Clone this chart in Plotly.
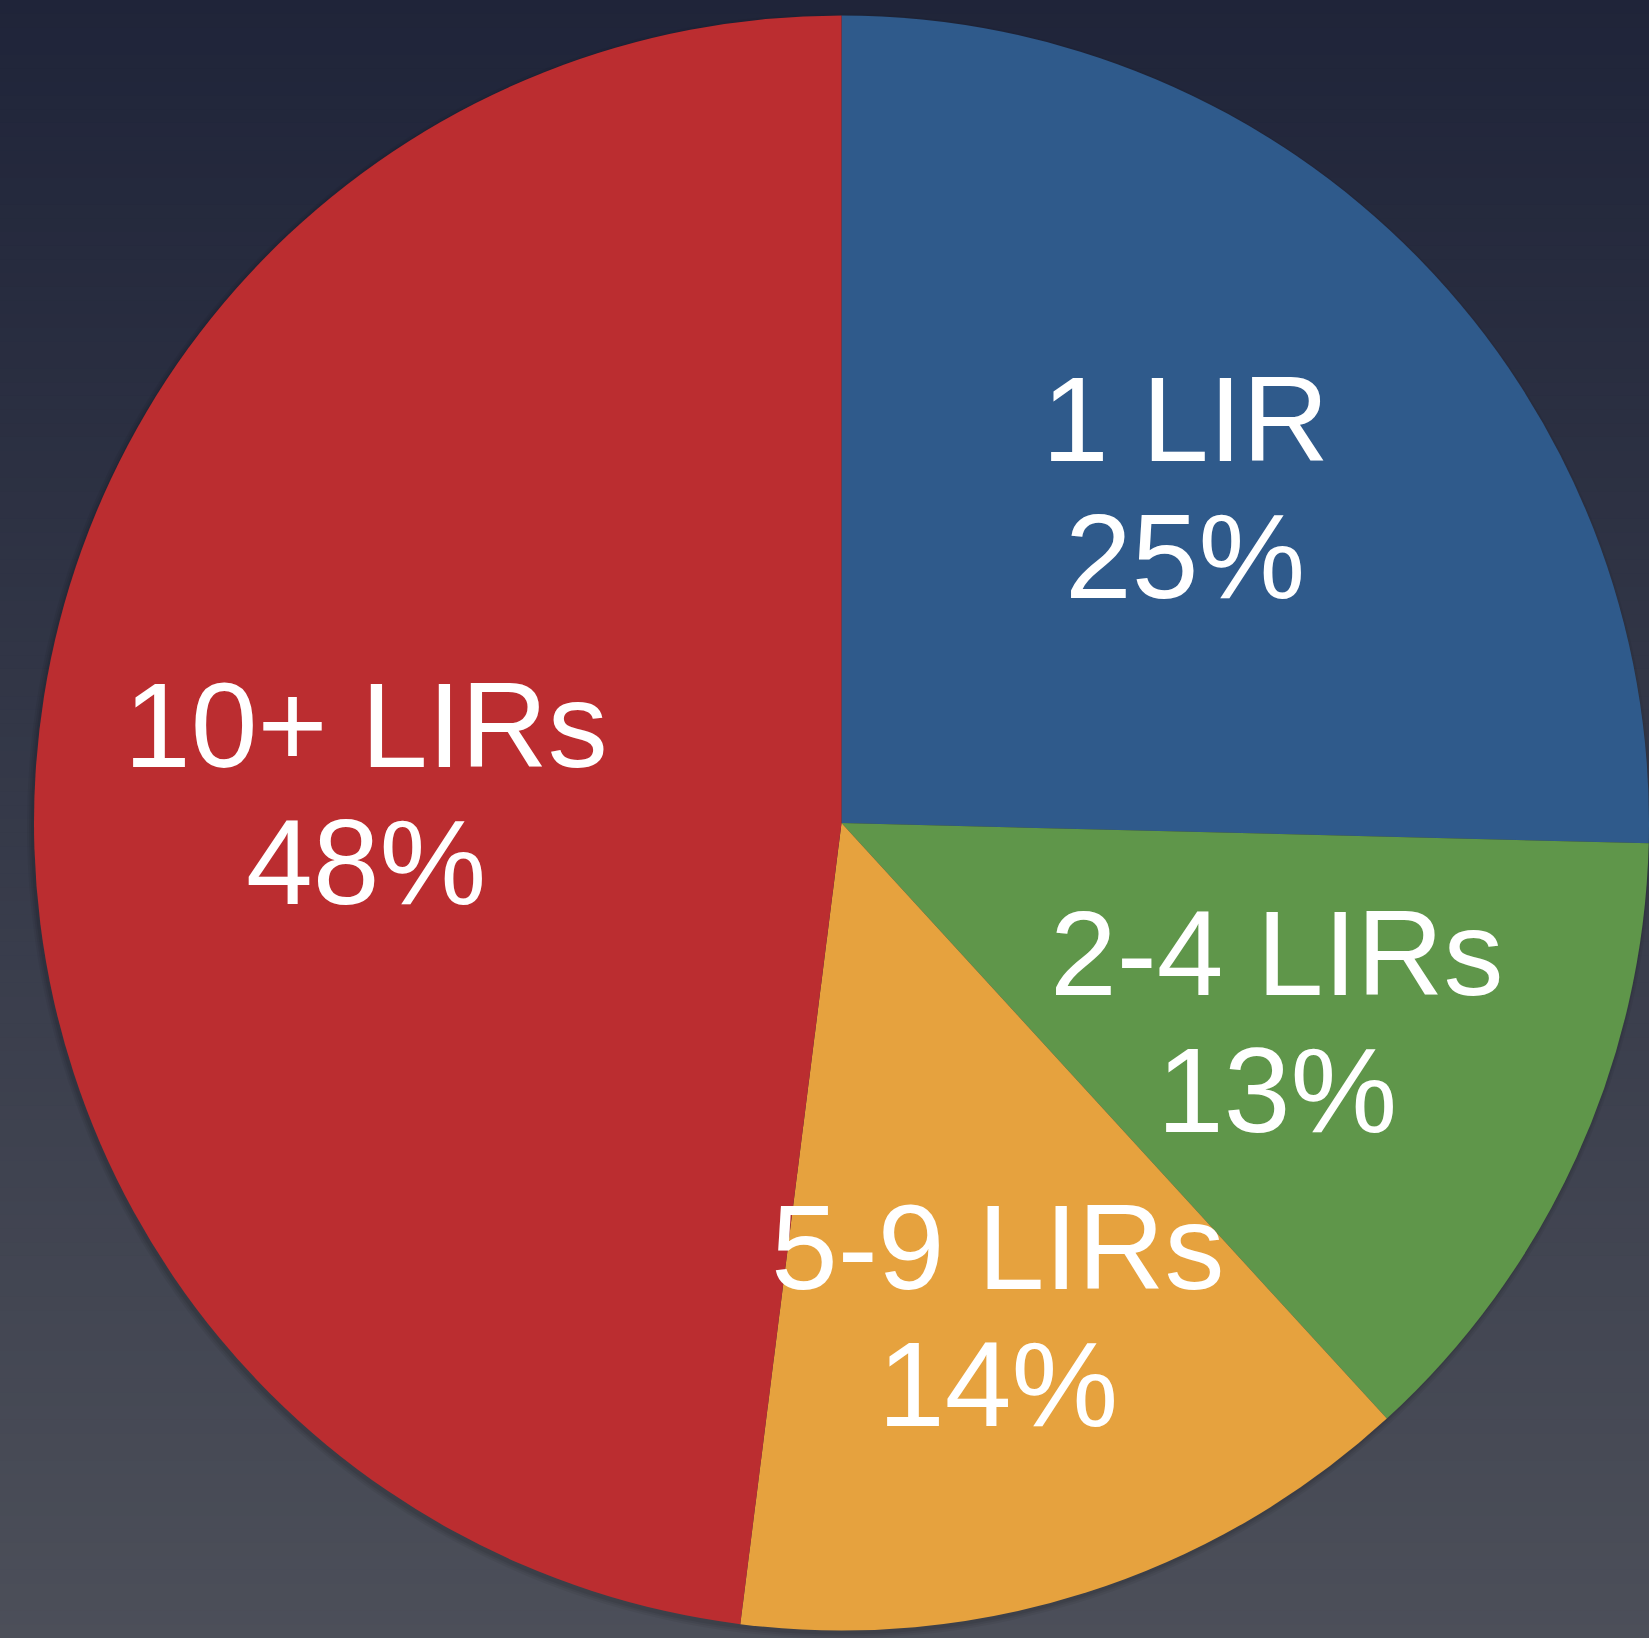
import math
import plotly.graph_objects as go

# ---- data ----
categories = ["1 LIR", "2-4 LIRs", "5-9 LIRs", "10+ LIRs"]
values = [25.4, 12.8, 13.8, 48.0]
colors = ["#2F5A8B", "#5F964A", "#E6A23E", "#BB2D30"]
label_r = [0.595, 0.593, 0.64, 0.59]   # label distance as fraction of radius

W, H = 1649, 1638
dom_x = [34 / W, 1.0]
dom_y = [3 / H, 1 - 11 / H]

# pie geometry in pixels (plotly: radius = min(box)/2, centred in the domain)
bw = (dom_x[1] - dom_x[0]) * W
bh = (dom_y[1] - dom_y[0]) * H
R = min(bw, bh) / 2
cx = (dom_x[0] + dom_x[1]) / 2 * W
cy = (1 - (dom_y[0] + dom_y[1]) / 2) * H

# vertical background gradient (top -> bottom)
top_rgb = (31, 36, 57)
bot_rgb = (76, 79, 89)
n_strips = 120
shapes = []
for i in range(n_strips):
    t = (i + 0.5) / n_strips
    c = tuple(round(top_rgb[k] + (bot_rgb[k] - top_rgb[k]) * t) for k in range(3))
    shapes.append(dict(type="rect", xref="paper", yref="paper",
                       x0=0, x1=1, y1=1 - i / n_strips, y0=1 - (i + 1) / n_strips - 0.001,
                       fillcolor="rgb(%d,%d,%d)" % c, line=dict(width=0), layer="below"))
# soft shadow behind the pie (offset down-left)
for k, a in enumerate([0.05, 0.06, 0.07]):
    g = 5 - 2 * k
    shapes.append(dict(type="circle", xref="paper", yref="paper",
                       x0=(cx - R - g - 2) / W, x1=(cx + R + g - 2) / W,
                       y0=1 - (cy + R + g + 3) / H, y1=1 - (cy - R - g + 3) / H,
                       fillcolor="rgba(0,0,0,%.2f)" % a, line=dict(width=0), layer="below"))

fig = go.Figure(go.Pie(
    labels=categories, values=values, sort=False, direction="clockwise",
    rotation=0, marker=dict(colors=colors, line=dict(width=0)),
    textinfo="none", hoverinfo="label+percent", showlegend=False,
    domain=dict(x=dom_x, y=dom_y),
))

total = sum(values)
annotations = []
cum = 0.0
font = dict(family="Liberation Sans, Arial, sans-serif", size=120, color="white")
for name, v, rf in zip(categories, values, label_r):
    mid = (cum + v / 2) / total * 2 * math.pi
    cum += v
    px = cx + rf * R * math.sin(mid)
    py = cy - rf * R * math.cos(mid)
    pct = "%d%%" % round(v / total * 100)
    for txt, dy in ((name, -68.5), (pct, 68.5)):
        annotations.append(dict(x=px / W, y=1 - py / H, xref="paper", yref="paper",
                                text=txt, showarrow=False, font=font,
                                xanchor="center", yanchor="middle", yshift=-dy))

fig.update_layout(width=W, height=H, margin=dict(l=0, r=0, t=0, b=0),
                  paper_bgcolor="#2e3243", plot_bgcolor="rgba(0,0,0,0)",
                  shapes=shapes, annotations=annotations)
fig.write_html("out.html", config={"displayModeBar": False},
               post_script="document.body.style.margin='0';"
                           "document.body.style.overflow='hidden';")
